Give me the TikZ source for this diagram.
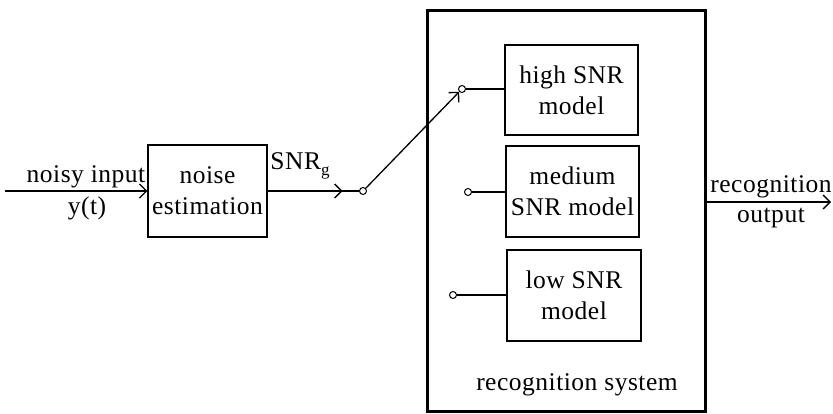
\documentclass[tikz,border=0pt]{standalone}
\usepackage{fontspec}
\setmainfont[LetterSpace=2]{Liberation Serif}
\usetikzlibrary{arrows.meta,decorations.markings}
\begin{document}
\begin{tikzpicture}[x=1pt,y=-1pt,
  font=\fontsize{25.5}{31}\selectfont,
  line width=1.3pt,
  blk/.style={draw, align=center, inner sep=2pt},
  tip/.style={-{Straight Barb[length=7pt,width=14pt,line width=1.3pt]}},
  midtip/.style={decoration={markings, mark=at position #1 with {\arrow{Straight Barb[length=7pt,width=14pt,line width=1.3pt]}}}, postaction=decorate},
  port/.style={circle, draw, fill=white, inner sep=0pt, minimum size=7pt, line width=1pt}]
\useasboundingbox (0,0) rectangle (833,414);

% blocks
\node[blk, minimum width=119pt, minimum height=92pt] (est) at (207.5,191) {noise\\estimation};
\node[draw, line width=3pt, minimum width=278pt, minimum height=400pt] (sys) at (566,211) {};
\node (syslabel) at (577,385) {recognition system};
\node[blk, minimum width=133pt, minimum height=90pt] (high) at (571.5,90) {high SNR\\model};
\node[blk, minimum width=133pt, minimum height=91pt] (med) at (572.5,191.5) {medium\\SNR model};
\node[blk, minimum width=134pt, minimum height=91pt] (low) at (574,295.5) {low SNR\\model};

% switch contacts
\node[port] (pin) at (363,191) {};
\node[port] (hi) at (462,89) {};
\node[port] (mc) at (468,192) {};
\node[port] (lc) at (453,295) {};

% input
\coordinate (in) at (5,191);
\draw[tip] (in) -- (est.west);
\node (inlab) at (86,177) {noisy input};
\node (ylab) at (87,208) {y(t)};

% estimated SNR to switch
\draw[midtip=0.82] (est.east) -- (pin.west);
\node (snr) at (300,166) {SNR\raisebox{-6pt}{\fontsize{17}{17}\selectfont g}};

% switch arm and contact leads
\draw[tip] (pin.north east) -- (hi.south west);
\draw (hi.east) -- (hi -| high.west);
\draw (mc.east) -- (mc -| med.west);
\draw (lc.east) -- (lc -| low.west);

% output
\coordinate (out) at (831,202);
\draw[tip] (sys.east |- out) -- (out);
\node (outlab1) at (771,187) {recognition};
\node (outlab2) at (771,218) {output};
\end{tikzpicture}
\end{document}
